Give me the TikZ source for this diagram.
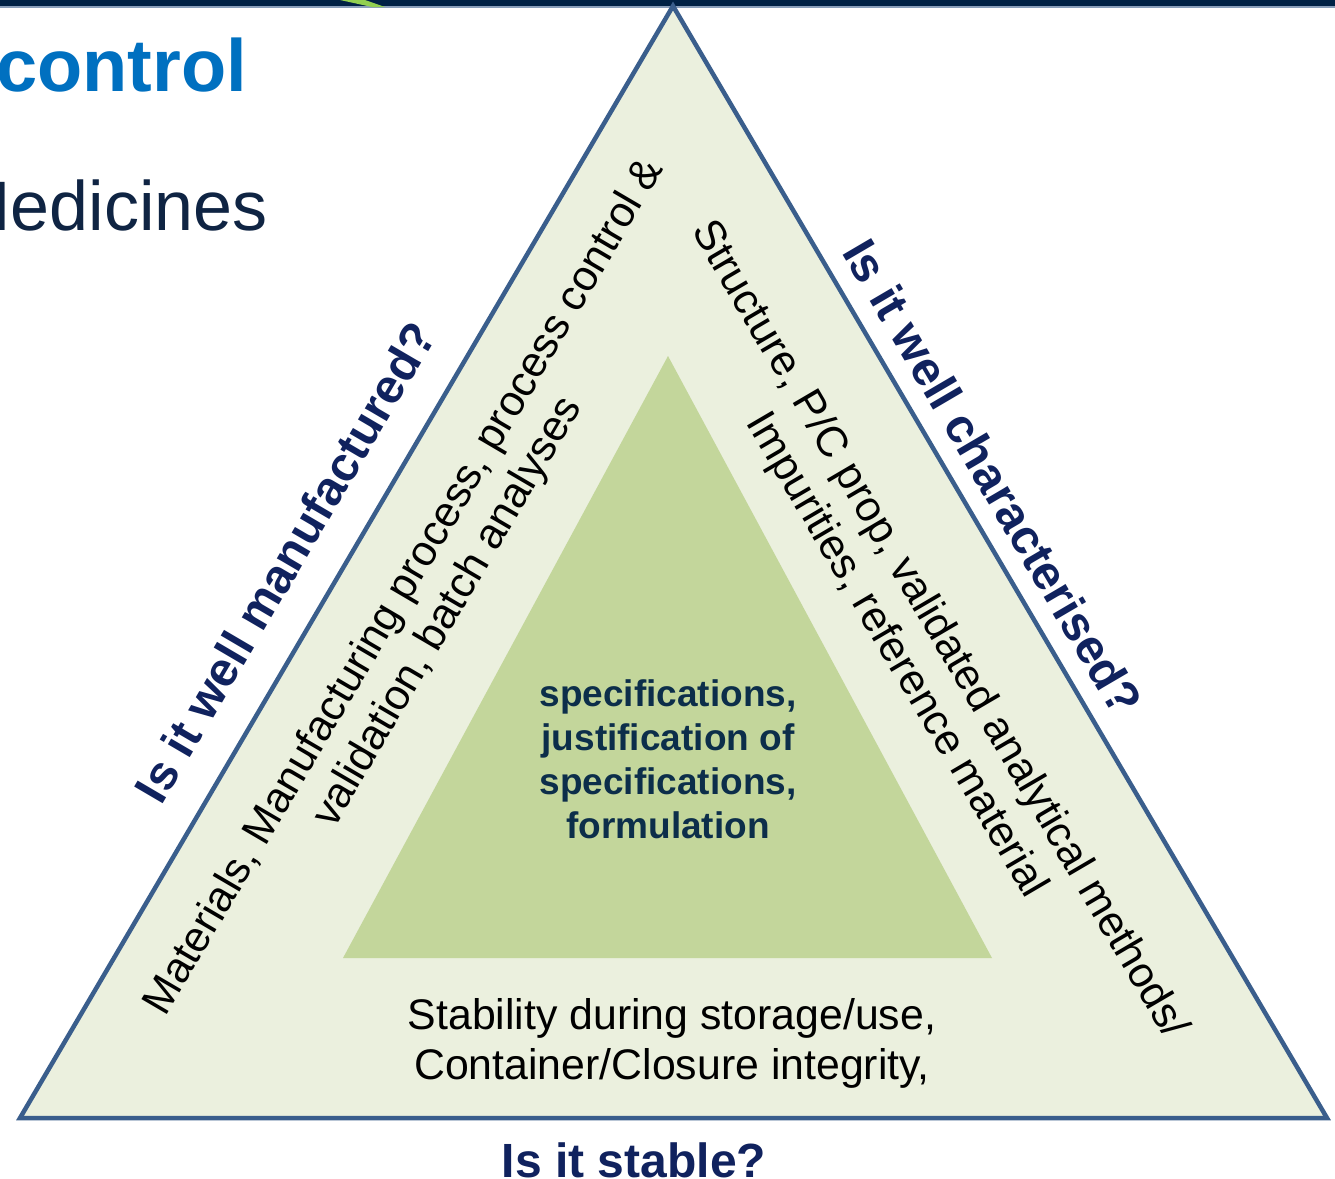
\documentclass[tikz,border=0pt]{standalone}
\usepackage{fontspec}
\setmainfont{Liberation Sans}
\definecolor{outerfill}{HTML}{EBF0DE}
\definecolor{edge}{HTML}{3A5E8C}
\definecolor{innerfill}{HTML}{C3D69B}
\definecolor{headcol}{HTML}{10225E}
\definecolor{centercol}{HTML}{0C2E4A}
\definecolor{titleblue}{HTML}{0070C0}
\definecolor{subcol}{HTML}{0F2443}
\definecolor{band}{HTML}{002145}
\definecolor{streak}{HTML}{92D050}
\tikzset{
  heading/.style={font=\fontsize{48}{55}\selectfont\bfseries, text=headcol, inner sep=0pt},
  body/.style={font=\fontsize{42.8}{50}\selectfont, text=black, align=center, inner sep=0pt},
  centertext/.style={font=\fontsize{37}{44}\selectfont\bfseries, text=centercol, align=center, inner sep=0pt}
}
\begin{document}
\begin{tikzpicture}[x=1pt,y=-1pt]
\useasboundingbox (0,0) rectangle (1335,1178);
\clip (0,0) rectangle (1335,1178);
\fill[white] (0,0) rectangle (1335,1178);
% top band
\fill[band] (0,0) rectangle (1335,6);
\fill[edge!60] (0,6) rectangle (1335,7.5);
\fill[streak] (340,0) -- (365,0) -- (385,7) -- (372,7) -- cycle;
% title texts
\node[anchor=base west, inner sep=0pt, font=\fontsize{74}{80}\selectfont\bfseries, text=titleblue] (title) at (-4,91) {control};
\node[anchor=base east, inner sep=0pt, font=\fontsize{70}{80}\selectfont, text=subcol] (sub) at (268,230) {Medicines};
% triangles
\coordinate (A) at (673,6);
\coordinate (B) at (20,1118);
\coordinate (C) at (1327,1118);
\draw[fill=outerfill, draw=edge, line width=4.5pt, line join=miter] (A) -- (B) -- (C) -- cycle;
\coordinate (a) at (668,356);
\coordinate (b) at (343,958);
\coordinate (c) at (992,958);
\fill[innerfill] (a) -- (b) -- (c) -- cycle;
% headings
\node[heading, rotate=59.6] (manu) at (285,562) {Is it well manufactured?};
\node[heading, rotate=-59.6] (char) at (993,477) {Is it well characterised?};
\node[heading] (stable) at (634,1160) {Is it stable?};
% body texts
\node[body, rotate=59.6] (left) at (427,600) {Materials, Manufacturing process, process control \&\\validation, batch analyses};
\node[body, rotate=-59.6] (right) at (917,643) {Structure, P/C prop, validated analytical methods/\\Impurities, reference material};
\node[body] (bottom) at (672,1043) {Stability during storage/use,\\Container/Closure integrity,};
\node[centertext] (center) at (668,759) {specifications,\\justification of\\specifications,\\formulation};
\end{tikzpicture}
\end{document}
